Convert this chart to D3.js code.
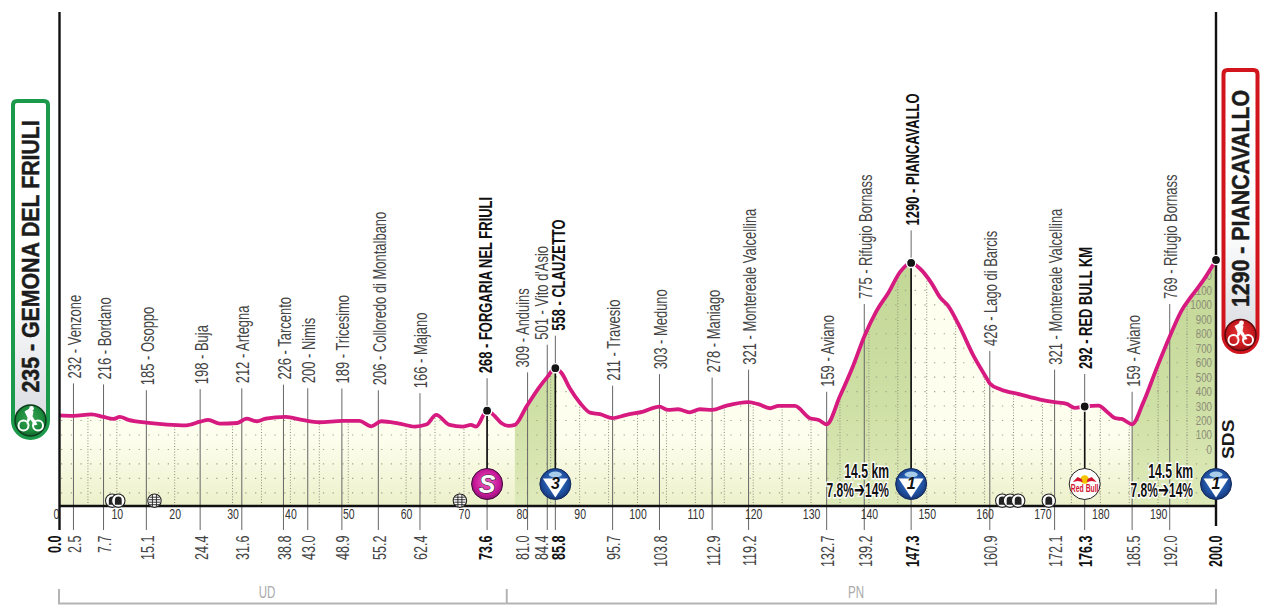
<!DOCTYPE html>
<html><head><meta charset="utf-8">
<script src="https://cdn.jsdelivr.net/npm/d3@7"></script>
<style>
html,body{margin:0;padding:0;background:#fff;overflow:hidden}
svg{display:block}
text{font-family:"Liberation Sans",sans-serif}
</style></head><body><svg id="c" width="1280" height="614"></svg>
<script>
// ---------- data ----------
const profileKm = [0,2.5,5.6,7.7,9.4,10.5,12,15.1,18.7,22,24.4,25.8,27.8,30.8,32.4,34.2,35.7,39.2,42,45,49,51.9,54,55.7,58.6,61.5,63.5,65.2,67.5,69.8,71.2,72.1,74,75.1,76.5,77.7,78.8,80.8,83.1,84.4,85.8,86.9,88.3,90.1,91.8,93.5,95.7,98.1,101,103.8,105.3,107,109,110.8,112.9,115.4,119.2,120.9,122.9,124.4,127.2,129.8,131.3,132.7,135,137.3,139.2,141.3,143.4,145.4,147.3,148.8,150.9,152.3,153.7,155.8,158,160.4,160.9,162.7,166.1,169.6,172.1,174.2,175.6,177.3,179.7,181.1,182.6,183.7,185.5,187.4,189.7,192,194,195.8,197.8,200];
const profileEle = [235,232,243,225,211,225,204,185,172,167,192,204,179,183,213,195,213,225,204,188,197,197,160,195,181,158,172,239,170,158,170,158,268,239,181,163,170,296,435,500,562,527,423,320,255,244,216,239,262,296,273,278,257,278,273,303,327,313,285,301,301,216,204,174,369,581,781,957,1086,1228,1290,1251,1145,1051,993,840,654,490,456,416,381,345,327,315,287,297,303,263,216,211,174,322,557,781,957,1062,1169,1310];

const stopEle   = [232,216,185,198,212,226,200,189,206,166,268,309,501,558,211,303,278,321,159,775,1290,426,321,292,159,769];
const stopName  = ["Venzone","Bordano","Osoppo","Buja","Artegna","Tarcento","Nimis","Tricesimo","Colloredo di Montalbano","Majano","FORGARIA NEL FRIULI","Anduins","Vito d'Asio","CLAUZETTO","Travesio","Meduno","Maniago","Montereale Valcellina","Aviano","Rifugio Bornass","PIANCAVALLO","Lago di Barcis","Montereale Valcellina","RED BULL KM","Aviano","Rifugio Bornass"];
const stopKmText= ["2.5","7.7","15.1","24.4","31.6","38.8","43.0","48.9","55.2","62.4","73.6","81.0","84.4","85.8","95.7","103.8","112.9","119.2","132.7","139.2","147.3","160.9","172.1","176.3","185.5","192.0"];
const stopLineKm= [2.5,7.7,15.1,24.4,31.6,38.8,43,48.9,55.2,62.4,74,81,84.4,85.8,95.7,103.8,112.9,119.2,132.7,139.2,147.3,160.9,172.1,177.3,185.5,192];
const stopTextKm= [2.5,7.7,15.1,24.4,31.6,38.8,43,48.9,55.2,62.4,73.6,80,83.3,86.2,95.7,103.8,112.9,119.2,132.7,139.2,147.3,160.9,172.1,177.3,185.5,192];
const boldStops = ["FORGARIA NEL FRIULI","CLAUZETTO","PIANCAVALLO","RED BULL KM"];
const kmTicks   = d3.range(0,200,10);
const dottedKm  = [5,10,20,30,35,40,45,50,60,65,70,85,90,95,100,105,110,115,120,125,130,135,140,145,150,155,160,165,170,175,180,185,190,195];
const altTicks  = d3.range(0,1300,100);
const gridAlt   = d3.range(-300,1300,100);
const climbs    = [[78.8,85.8],[132.7,147.3],[185.5,200]];
const tunnelKm  = [9.2,10.25,163.05,164.4,165.8,171.1];
const railKm    = [16.5,69.3];
const notes     = [{km:"14.5 km",grade:["7.8%","14%"]},{km:"14.5 km",grade:["7.8%","14%"]}];
const provinces = ["UD","PN"];

// ---------- scales ----------
const svg = d3.select("#c");
const x = d3.scaleLinear().domain([0,200]).range([59,1216]);
const y = d3.scaleLinear().domain([-391,1310]).range([506,260]);
const baseY = y(-391);
const points = profileKm.map((k,i)=>({k,e:profileEle[i]}));
const bis = d3.bisector(d=>d.k).left;
function eleAt(k){const i=Math.min(Math.max(bis(points,k),1),points.length-1),a=points[i-1],b=points[i];return a.e+(b.e-a.e)*(k-a.k)/(b.k-a.k);}
const curve = d3.curveMonotoneX;
const area = d3.area().x(d=>x(d.k)).y0(baseY).y1(d=>y(d.e)).curve(curve);
const line = d3.line().x(d=>x(d.k)).y(d=>y(d.e)).curve(curve);

const defs = svg.append("defs");
function lg(id,x1,y1,x2,y2,stops,user){const g=defs.append("linearGradient").attr("id",id).attr("x1",x1).attr("y1",y1).attr("x2",x2).attr("y2",y2);
  if(user)g.attr("gradientUnits","userSpaceOnUse");stops.forEach(s=>g.append("stop").attr("offset",s[0]).attr("stop-color",s[1]));}
lg("cream",0,263,0,506,[[0,"#ffffef"],[.72,"#fefeee"],[1,"#ecf1ca"]],true);
lg("green",0,263,0,506,[[0,"#c2d796"],[.6,"#cfe0a6"],[1,"#dfeaba"]],true);
lg("pill",0,0,0,1,[[0,"#ffffff"],[.55,"#ffffff"],[1,"#d5d8de"]]);
function rg(id,a,b,c){const g=defs.append("radialGradient").attr("id",id).attr("cx",.5).attr("cy",.45).attr("r",.6);
  g.append("stop").attr("offset",0).attr("stop-color",a);g.append("stop").attr("offset",.65).attr("stop-color",b);g.append("stop").attr("offset",1).attr("stop-color",c);}
rg("rgBlue","#3f7fd0","#1f4f9f","#142c66");
rg("rgMag","#ef5fc0","#c8189a","#7c0f6a");
rg("rgGreen","#3aa653","#1b8a3c","#0d5a26");
rg("rgRed","#ea3a3a","#c81a1f","#8c0f14");
defs.append("clipPath").attr("id","under").append("path").attr("d",area(points));

// ---------- fills ----------
svg.append("path").attr("d",area(points)).attr("fill","url(#cream)");
climbs.forEach(c=>svg.append("path").attr("d",area(points.filter(p=>p.k>=c[0]&&p.k<=c[1]))).attr("fill","url(#green)"));

// ---------- grid, clipped under the profile ----------
const under = svg.append("g").attr("clip-path","url(#under)");
under.selectAll("line.h").data(gridAlt).join("line").attr("x1",x(0)+2).attr("x2",x(200))
  .attr("y1",d=>y(d)).attr("y2",d=>y(d)).attr("stroke","#a5a58c").attr("stroke-width",1.1).attr("stroke-dasharray","1.3 8.4");
under.selectAll("line.v").data(dottedKm).join("line").attr("x1",d=>x(d)).attr("x2",d=>x(d))
  .attr("y1",250).attr("y2",baseY).attr("stroke","#8c8c7c").attr("stroke-width",1).attr("stroke-dasharray","1 1.8");
const altAxis = d3.axisLeft(y).tickValues(altTicks).tickSize(0).tickPadding(0).tickFormat(d3.format("d"));
const altG = under.append("g").attr("transform",`translate(${x(200)-4},0)`).call(altAxis);
altG.select(".domain").remove();
altG.selectAll("text").attr("fill","#8d8d78").attr("font-size",12.5).attr("font-family",'"Liberation Sans"').attr("transform","scale(.78,1)");

// ---------- stop leader lines ----------
const stops = stopName.map((n,i)=>({n,ele:stopEle[i],kmt:stopKmText[i],lk:stopLineKm[i],tk:stopTextKm[i],bold:boldStops.includes(n)}));
stops.forEach(s=>{s.py=y(eleAt(s.lk));s.top=s.py-37.5;});
svg.append("g").selectAll("line").data(stops).join("line").attr("x1",d=>x(d.lk)).attr("x2",d=>x(d.lk))
  .attr("y1",d=>d.top+5).attr("y2",530).attr("stroke","#666").attr("stroke-width",1);
svg.append("g").selectAll("line").data(stops.filter(s=>s.bold)).join("line").attr("x1",d=>x(d.lk)).attr("x2",d=>x(d.lk))
  .attr("y1",d=>d.py).attr("y2",470).attr("stroke","#111").attr("stroke-width",1.6);

// ---------- profile line ----------
svg.append("path").attr("d",line(points)).attr("fill","none").attr("stroke","#d61a80").attr("stroke-width",3.8).attr("stroke-linejoin","round");

// ---------- axes ----------
const kmAxis = d3.axisBottom(x).tickValues(kmTicks).tickSize(0).tickPadding(0).tickFormat(d3.format("d"));
const kmG = svg.append("g").attr("transform",`translate(0,${baseY+3.5})`).call(kmAxis);
kmG.select(".domain").remove();
kmG.selectAll("text").attr("fill","#333").attr("font-size",14).attr("font-family",'"Liberation Sans"').attr("transform","scale(.75,1)");
kmG.selectAll("text").filter(d=>d===0).attr("dx",-4);
svg.append("line").attr("x1",x(0)).attr("x2",x(200)).attr("y1",baseY).attr("y2",baseY).attr("stroke","#111").attr("stroke-width",2.4);
svg.append("line").attr("x1",x(0)+.5).attr("x2",x(0)+.5).attr("y1",12).attr("y2",530).attr("stroke","#111").attr("stroke-width",2.4);
svg.append("line").attr("x1",x(200)).attr("x2",x(200)).attr("y1",12).attr("y2",526).attr("stroke","#111").attr("stroke-width",2.4);

// ---------- dots ----------
const dots = stops.filter(s=>s.bold).map(s=>({k:s.lk,e:eleAt(s.lk)})).concat([{k:200,e:1310}]);
svg.append("g").selectAll("circle").data(dots).join("circle").attr("cx",d=>x(d.k)).attr("cy",d=>y(d.e)).attr("r",4.6)
  .attr("fill","#141414").attr("stroke","#fff").attr("stroke-width",1.4);

// ---------- rotated labels ----------
function vtext(g,px,py,str,o){
  return g.append("text").attr("transform",`translate(${px},${py}) rotate(-90) scale(${o.sx||1},1)`)
   .attr("dy",".36em").attr("text-anchor",o.anchor||"start").attr("font-size",o.size).attr("font-weight",o.weight||"normal")
   .attr("fill",o.fill||"#3a3a3a").text(str);
}
const lab = svg.append("g");
stops.forEach(s=>{
  vtext(lab,x(s.tk)+1,s.top,`${s.ele} - ${s.n}`,{size:18,sx:.72,weight:s.bold?"bold":"normal",fill:s.bold?"#111":"#444"});
  vtext(lab,x(s.tk)+1,535.5,s.kmt,{size:18,sx:.7,anchor:"end",weight:s.bold?"bold":"normal",fill:s.bold?"#111":"#444"});
});
vtext(lab,55,535.5,"0.0",{size:18,sx:.7,anchor:"end",weight:"bold",fill:"#111"});
vtext(lab,x(200),535.5,"200.0",{size:18,sx:.7,anchor:"end",weight:"bold",fill:"#111"});
vtext(lab,1228,459,"SDS",{size:16,sx:1.2,weight:"bold",fill:"#1a1a1a"});

// ---------- province bracket ----------
const br = svg.append("g").attr("stroke","#b4b4b4").attr("stroke-width",2).attr("fill","none");
br.append("path").attr("d",`M${x(0)},589V603.5H${x(200)}V589M${x(77.4)},589V603.5`);
provinces.forEach((p,i)=>svg.append("text").attr("transform",`translate(${[267,856][i]},598) scale(.68,1)`).attr("text-anchor","middle")
  .attr("font-size",17).attr("fill","#aaa").text(p));

// ---------- icons ----------
function cyclist(g,cx,cy,grad,ring){
  const c=g.append("g").attr("transform",`translate(${cx},${cy})`);
  c.append("circle").attr("r",15.5).attr("fill",`url(#${grad})`).attr("stroke",ring).attr("stroke-width",1.5);
  c.append("circle").attr("cx",-7).attr("cy",5).attr("r",5).attr("fill","none").attr("stroke","#fff").attr("stroke-width",2);
  c.append("circle").attr("cx",7.5).attr("cy",5).attr("r",5).attr("fill","none").attr("stroke","#fff").attr("stroke-width",2);
  c.append("path").attr("d","M-4,4L-3,-3L-6,-9L-1,-12L3,-9L2,-4L7,4L4,5L0,-1Z").attr("fill","#fff");
  c.append("circle").attr("cx",1).attr("cy",-12).attr("r",2.4).attr("fill","#fff");
}
function gpm(cx,cy,n){
  const c=svg.append("g").attr("transform",`translate(${cx},${cy})`);
  c.append("circle").attr("r",15.5).attr("fill","url(#rgBlue)").attr("stroke","#12285c").attr("stroke-width",1);
  c.append("ellipse").attr("cy",-9.5).attr("rx",6.5).attr("ry",3).attr("fill","#a7cdea");
  c.append("path").attr("d","M-12.5,-5.5H12.5L0,13.5Z").attr("fill","#fff");
  c.append("text").attr("y",4.5).attr("text-anchor","middle").attr("font-size",16).attr("font-weight","bold").attr("font-style","italic").attr("fill","#111").text(n);
}
const ic = svg.append("g");
const sp=ic.append("g").attr("transform",`translate(${x(74)},484)`);
sp.append("circle").attr("r",15.5).attr("fill","url(#rgMag)").attr("stroke","#3b0a35").attr("stroke-width",1);
sp.append("text").attr("y",8.5).attr("text-anchor","middle").attr("font-size",25).attr("font-weight","bold").attr("font-style","italic")
  .attr("fill","#fff").attr("stroke","#222").attr("stroke-width",1).attr("paint-order","stroke").text("S");
gpm(x(85.8),484,"3"); gpm(x(147.3),484,"1"); gpm(x(200),484,"1");
const rb=svg.append("g").attr("transform",`translate(${x(177.3)},484)`);
rb.append("circle").attr("r",15.5).attr("fill","#fff").attr("stroke","#222").attr("stroke-width",1);
rb.append("circle").attr("cy",-4.5).attr("r",4.2).attr("fill","#f5c400");
rb.append("path").attr("d","M-12,-2L-7,-7L-3,-5L-2,-2L-7,-3ZM12,-2L7,-7L3,-5L2,-2L7,-3Z").attr("fill","#d2122e");
rb.append("text").attr("transform","translate(0,8) scale(.62,1)").attr("text-anchor","middle").attr("font-size",11).attr("font-weight","bold").attr("fill","#d2122e").text("Red Bull");
const tg=svg.append("g");
tunnelKm.forEach(k=>{const c=tg.append("g").attr("transform",`translate(${x(k)},500.7)`);
  c.append("circle").attr("r",6.7).attr("fill","#fff").attr("stroke","#222").attr("stroke-width",1.1);
  c.append("path").attr("d","M-3.4,4V-.8A3.4,3.4 0 0 1 3.4,-.8V4Z").attr("fill","#222");});
railKm.forEach(k=>{const c=tg.append("g").attr("transform",`translate(${x(k)},500.7)`);
  c.append("circle").attr("r",6.7).attr("fill","#fff").attr("stroke","#222").attr("stroke-width",1.1);
  c.append("path").attr("d","M-2,-6V6M2,-6V6M-5,-3.5H5M-5.6,-1H5.6M-5.6,1.5H5.6M-5,4H5").attr("stroke","#222").attr("stroke-width",.9).attr("fill","none");});

// ---------- climb notes ----------
[889,1193].forEach((rx,i)=>{
  const n=notes[i], halo=t=>t.attr("stroke","#fff").attr("stroke-width",3).attr("paint-order","stroke").attr("fill","#111").attr("font-weight","bold").attr("font-size",20).attr("text-anchor","end");
  svg.append("text").attr("transform",`translate(${rx},477.5) scale(.61,1)`).call(halo).text(n.km);
  const t=svg.append("text").attr("transform",`translate(${rx},497) scale(.6,1)`).call(halo);
  t.append("tspan").text(n.grade[0]);
  t.append("tspan").style("font-family",'"DejaVu Sans"').attr("font-size",22).text("➔");
  t.append("tspan").text(n.grade[1]);
});

// ---------- start / finish pills ----------
function pill(x0,x1,top,bot,col,grad,ring,label,tx,ty,sx){
  const w=x1-x0,r=w/2,g=svg.append("g");
  g.append("path").attr("d",`M${x0+4},${top}H${x1-4}Q${x1},${top} ${x1},${top+4}V${bot-r}A${r},${r} 0 0 1 ${x0},${bot-r}V${top+4}Q${x0},${top} ${x0+4},${top}Z`)
    .attr("fill","url(#pill)").attr("stroke",col).attr("stroke-width",4);
  vtext(g,tx,ty,label,{size:24.5,sx,weight:"bold",fill:"#1c1c1c"}).attr("stroke","#1c1c1c").attr("stroke-width",.5);
  cyclist(g,(x0+x1)/2,bot-r,grad,ring);
}
pill(13,48,101,438,"#1c9a4b","rgGreen","#0c3c1c","235 - GEMONA DEL FRIULI",30,392.5,.87);
pill(1223.5,1257.5,70,352,"#d2141c","rgRed","#5c0a0c","1290 - PIANCAVALLO",1240,307,.87);
</script></body></html>
